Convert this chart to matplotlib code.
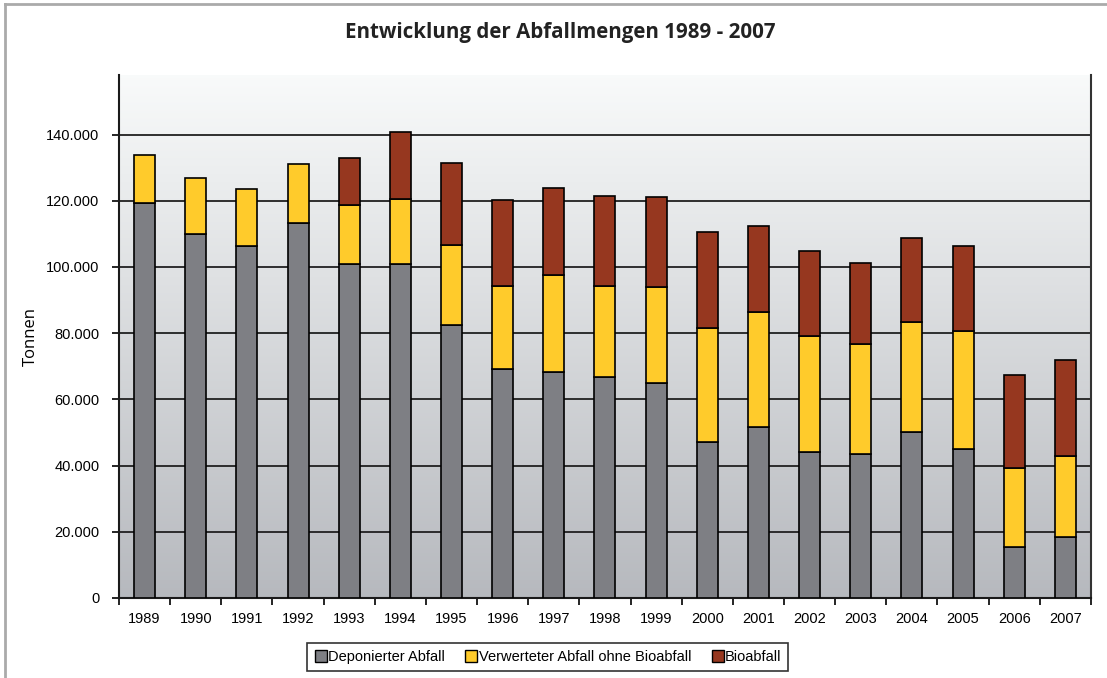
import matplotlib
matplotlib.use("Agg")
import matplotlib.pyplot as plt
import numpy as np
from matplotlib.lines import Line2D

years = [str(y) for y in range(1989, 2008)]
deponiert = [119200, 110000, 106300, 113200, 100800, 100800, 82500, 69100, 68200, 66900,
             65000, 47000, 51600, 44200, 43400, 50200, 45100, 15300, 18500]
verwertet = [14700, 17000, 17400, 18000, 17800, 19700, 24100, 25300, 29400, 27500,
             29000, 34500, 34900, 35000, 33400, 33200, 35500, 23900, 24400]
bioabfall = [0, 0, 0, 0, 14400, 20300, 24900, 25800, 26300, 27100,
             27100, 29000, 25900, 25700, 24400, 25300, 25700, 28100, 29000]
labels = ["Deponierter Abfall", "Verwerteter Abfall ohne Bioabfall", "Bioabfall"]
colors = ["#7e7f84", "#ffcb2b", "#96371f"]

fig = plt.figure(figsize=(11.07, 6.78), dpi=100)
ax = fig.add_axes([0.1075, 0.118, 0.878, 0.7714])

x = np.arange(len(years))
ymax = 158000
ax.set_xlim(-0.5, len(years) - 0.5)
ax.set_ylim(0, ymax)

# background gradient: light at top, grey at bottom
grad = np.linspace(0, 1, 256).reshape(-1, 1)
top = np.array([0.975, 0.982, 0.982])
bot = np.array([0.715, 0.725, 0.745])
img = bot + (top - bot) * grad[:, :, None]
ax.imshow(img, extent=[-0.5, len(years) - 0.5, 0, ymax], origin="lower",
          aspect="auto", zorder=0)

ax.yaxis.grid(True, color="#202020", linewidth=1.3, zorder=1)
ax.set_axisbelow(True)

dep = np.array(deponiert)
ver = np.array(verwertet)
bio = np.array(bioabfall)
w = 0.41
ax.bar(x, dep, w, color=colors[0], edgecolor="black", linewidth=1.2, zorder=3)
ax.bar(x, ver, w, bottom=dep, color=colors[1], edgecolor="black", linewidth=1.2, zorder=3)
mask = bio > 0
ax.bar(x[mask], bio[mask], w, bottom=(dep + ver)[mask], color=colors[2],
       edgecolor="black", linewidth=1.2, zorder=3)

yt = np.arange(0, 160000, 20000)
ax.set_yticks(yt)
ax.set_yticklabels(["0"] + ["{:,}".format(v).replace(",", ".") for v in yt[1:]],
                   fontsize=10.5, family="Liberation Sans")
ax.set_xticks(x)
ax.set_xticklabels(years, fontsize=10.5, family="Liberation Sans")
ax.set_xticks(np.arange(-0.5, len(years)), minor=True)
ax.tick_params(axis="x", which="major", length=0, pad=10)
ax.tick_params(axis="x", which="minor", length=5, width=1.2, direction="out")
ax.tick_params(axis="y", length=5, width=1.2, direction="out", pad=9)

ax.spines["top"].set_visible(False)
for s in ["left", "right", "bottom"]:
    ax.spines[s].set_linewidth(1.5)
    ax.spines[s].set_color("#1a1a1a")
ax.spines["right"].set_color("#333333")

ax.set_ylabel("Tonnen", fontsize=12, family="Open Sans")
ax.yaxis.set_label_coords(-0.082, 0.5)

fig.suptitle("Entwicklung der Abfallmengen 1989 - 2007", x=0.506, y=0.968,
             fontsize=14.8, fontweight="bold", family="Open Sans", color="#222222")

handles = [Line2D([], [], marker="s", linestyle="none", markersize=8,
                  markerfacecolor=c, markeredgecolor="black", markeredgewidth=1)
           for c in colors]
leg = fig.legend(handles, labels, loc="center", bbox_to_anchor=(0.4946, 0.031),
                 ncol=3, frameon=True, fancybox=False, shadow=False,
                 prop={"family": "Liberation Sans", "size": 10.5},
                 handletextpad=0.0, columnspacing=1.3, borderpad=0.45,
                 handlelength=1.0)
leg.get_frame().set_edgecolor("black")
leg.get_frame().set_linewidth(1.2)

# outer frame
fig.add_artist(Line2D([5 / 1107, 5 / 1107], [0, 1 - 4 / 678], transform=fig.transFigure,
                      color="#aaaaaa", linewidth=2))
fig.add_artist(Line2D([5 / 1107, 1], [1 - 4 / 678, 1 - 4 / 678], transform=fig.transFigure,
                      color="#aaaaaa", linewidth=2))

fig.savefig("out.png", dpi=100)
